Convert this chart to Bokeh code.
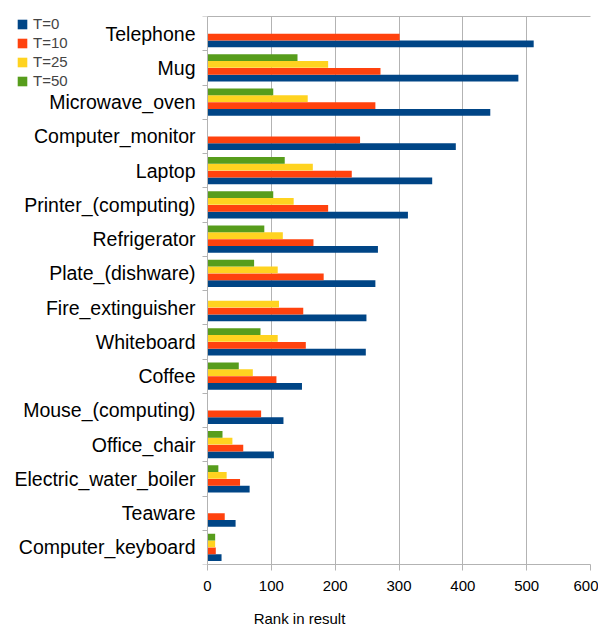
from bokeh.plotting import figure
from bokeh.models import (ColumnDataSource, Range1d, FixedTicker, Legend, LegendItem,
                          LinearAxis)
from bokeh.transform import dodge
from bokeh.embed import file_html
from bokeh.resources import INLINE

categories = ["Telephone", "Mug", "Microwave_oven", "Computer_monitor", "Laptop",
              "Printer_(computing)", "Refrigerator", "Plate_(dishware)", "Fire_extinguisher",
              "Whiteboard", "Coffee", "Mouse_(computing)", "Office_chair",
              "Electric_water_boiler", "Teaware", "Computer_keyboard"]
nan = float("nan")
t0 = [511, 487, 443, 389, 352, 314, 267, 263, 249, 248, 148, 119, 104, 66, 44, 22]
t10 = [301, 271, 263, 239, 226, 189, 166, 182, 150, 154, 108, 84, 56, 51, 27, 13]
t25 = [nan, 189, 157, nan, 165, 135, 118, 110, 112, 110, 71, nan, 39, 30, nan, 12]
t50 = [nan, 141, 103, nan, 121, 103, 89, 73, nan, 83, 49, nan, 23.5, 17, nan, 12]
series_names = ["T=0", "T=10", "T=25", "T=50"]
colors = ["#004586", "#ff420e", "#ffd320", "#579d1c"]
x_ticks = [0, 100, 200, 300, 400, 500, 600]

n = len(categories)
ypos = [n - i - 0.5 for i in range(n)]
src = ColumnDataSource(dict(y=ypos, cat=categories, t0=t0, t10=t10, t25=t25, t50=t50))

FONT = "Liberation Sans"
GRAY = "#b3b3b3"
W, H = 598, 629
frame_left, zero_px, frame_right = 8, 207, 590
frame_top, frame_bottom = 16, 565
px_per_unit = (frame_right - zero_px) / 600.0
x_start = -(zero_px - frame_left) / px_per_unit

p = figure(width=W, height=H, output_backend="svg", toolbar_location=None,
           x_range=Range1d(x_start, 600), y_range=Range1d(0, n),
           min_border_left=frame_left, min_border_right=W - frame_right,
           min_border_top=frame_top, min_border_bottom=H - frame_bottom)

fields = ["t0", "t10", "t25", "t50"]
offsets = [-0.3, -0.1, 0.1, 0.3]
renderers = []
for f, off, c in zip(fields, offsets, colors):
    r = p.hbar(y=dodge("y", off), left=0, right=f, height=0.195, source=src,
               fill_color=c, line_color=None)
    renderers.append(r)

# x axis
p.xaxis.ticker = FixedTicker(ticks=x_ticks)
p.xaxis.bounds = (0, 600)
p.xaxis.major_tick_out = 6
p.xaxis.major_tick_in = 0
p.xaxis.minor_tick_line_color = None
p.xaxis.major_tick_line_color = GRAY
p.xaxis.major_label_standoff = 10
p.xaxis.major_label_text_font = FONT
p.xaxis.major_label_text_font_size = "15px"
p.xaxis.major_label_text_color = "#000000"

# y axis at x = 0
p.yaxis.fixed_location = 0
p.yaxis.ticker = FixedTicker(ticks=ypos, minor_ticks=list(range(n + 1)))
p.yaxis.major_label_overrides = {y: c for y, c in zip(ypos, categories)}
p.yaxis.major_tick_line_color = None
p.yaxis.major_tick_out = 0
p.yaxis.major_tick_in = 0
p.yaxis.minor_tick_out = 5
p.yaxis.minor_tick_in = 0
p.yaxis.minor_tick_line_color = GRAY
p.yaxis.major_label_standoff = 7
p.yaxis.major_label_text_font = FONT
p.yaxis.major_label_text_font_size = "19.5px"
p.yaxis.major_label_text_color = "#000000"

for ax in (p.xaxis, p.yaxis):
    ax.axis_line_color = GRAY
    ax.axis_line_width = 1

# top border of the plot area
top = LinearAxis(ticker=FixedTicker(ticks=[]), bounds=(0, 600), axis_line_color=GRAY,
                 major_tick_line_color=None, minor_tick_line_color=None,
                 major_tick_out=0, minor_tick_out=0, major_label_text_font_size="0px")
p.add_layout(top, "above")

# x-axis title below the tick labels
title_axis = LinearAxis(ticker=FixedTicker(ticks=[]), bounds=(0, 600),
                        axis_line_color=None, major_tick_line_color=None,
                        minor_tick_line_color=None, major_tick_out=0, minor_tick_out=0,
                        major_label_text_font_size="0px", major_label_standoff=0,
                        axis_label="Rank in result", axis_label_standoff=16,
                        axis_label_text_font=FONT, axis_label_text_font_size="15px",
                        axis_label_text_font_style="normal", axis_label_text_color="#000000")
p.add_layout(title_axis, "below")

p.ygrid.grid_line_color = None
p.xgrid.grid_line_color = GRAY
p.xgrid.ticker = FixedTicker(ticks=x_ticks)
p.outline_line_color = None

items = [LegendItem(label=nm, renderers=[r]) for nm, r in zip(series_names, renderers)]
legend = Legend(items=items, location="top_left", padding=0, margin=0,
                glyph_width=12, glyph_height=12, label_text_font=FONT,
                label_text_font_size="15px",
                spacing=2, label_height=12,
                label_standoff=5, border_line_color=None, background_fill_alpha=0)
legend.location = (8, frame_bottom - frame_top - 74)
p.add_layout(legend)

open("out.html", "w").write(file_html(p, INLINE))
